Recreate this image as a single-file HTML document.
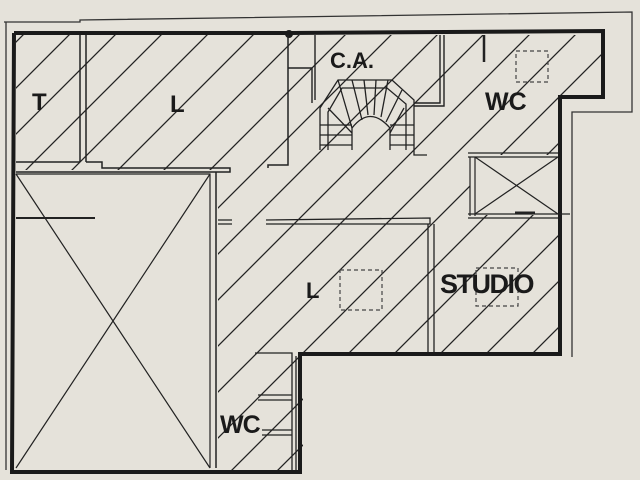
<!DOCTYPE html>
<html><head><meta charset="utf-8"><style>
html,body{margin:0;padding:0;background:#e5e2da;}
svg{display:block}
text{font-family:"Liberation Sans",sans-serif;font-weight:bold;fill:#1a1a1a}
</style></head><body>
<svg width="640" height="480" viewBox="0 0 640 480" xmlns="http://www.w3.org/2000/svg">
<defs>
<pattern id="h" patternUnits="userSpaceOnUse" width="46" height="46" patternTransform="translate(12,0)">
<path d="M-2,48 L48,-2 M-25,25 L25,-25 M21,71 L71,21" stroke="#222" stroke-width="1.3" fill="none"/>
</pattern>
<clipPath id="c"><path d="M16,35 L603,35 L603,95 L560,95 L560,352 L303,352 L303,470 L218,470 L218,170 L16,170 Z"/></clipPath>
</defs>
<rect width="640" height="480" fill="#e5e2da"/>
<rect x="0" y="0" width="640" height="480" fill="url(#h)" clip-path="url(#c)"/>
<rect x="470" y="155" width="88" height="60" fill="#e5e2da"/>
<path d="M4,22 L80,22 L80,20 L632,12 L632,112 L572,112 L572,357" stroke="#333" stroke-width="1.3" fill="none"/>
<path d="M6,22 L6,470" stroke="#333" stroke-width="1.3" fill="none"/>
<path d="M14,33 L290,33 L603,31 L603,97 L560,97 L560,354 L300,354 L300,472 L12,472 L14,33" stroke="#1a1a1a" stroke-width="4" fill="none"/>
<circle cx="289" cy="34" r="4" fill="#1a1a1a"/>
<path d="M80,35 L80,162 M86,35 L86,162" stroke="#222" stroke-width="1.5" fill="none"/>
<path d="M16,162 L80,162 M86,162 L102,162 L102,168 L230,168 L230,172 L16,172" stroke="#222" stroke-width="1.5" fill="none"/>
<path d="M288,35 L288,165 L268,165 L268,168" stroke="#222" stroke-width="1.5" fill="none"/>
<rect x="16" y="174" width="194" height="294" fill="#e5e2da"/>
<path d="M16,174 L210,174 L210,468 M16,174 L210,468 M210,174 L16,468" stroke="#222" stroke-width="1.2" fill="none"/>
<path d="M216,172 L216,468" stroke="#222" stroke-width="1.5" fill="none"/>
<path d="M16,218 L95,218" stroke="#222" stroke-width="2" fill="none"/>
<path d="M218,220 L232,220 M218,224 L232,224 M266,220 L430,218 L430,224 L266,224" stroke="#222" stroke-width="1.3" fill="none"/>
<path d="M428,224 L428,352 M434,224 L434,352" stroke="#222" stroke-width="1.3" fill="none"/>
<path d="M255,353 L292,353 L292,470 M296,356 L296,470 M258,395 L292,395 M258,400 L292,400 M262,430 L292,430 M262,435 L292,435" stroke="#222" stroke-width="1.3" fill="none"/>
<path d="M288,68 L312,68 L312,103 M315,35 L315,100 M440,35 L440,103 L415,103 M444,35 L444,106 L414,106" stroke="#222" stroke-width="1.4" fill="none"/>
<path d="M484,35 L484,62" stroke="#222" stroke-width="2.5"/>
<g stroke="#222" stroke-width="1.3" fill="none">
<path d="M320,150 L320,108 L338,80 L392,80 L414,100 L414,155 L427,155"/>
<path d="M328,150 L328,112 L342,88 L387,88 L406,104 L406,150"/>
<path d="M352,150 L352,128 Q370,105 390,128 L390,150"/>
<path d="M320,125 L352,125 M320,135 L352,135 M320,145 L352,145 M390,125 L414,125 M390,135 L414,135 M390,145 L414,145"/>
<path d="M338,80 L352,128 M352,80 L362,120 M364,80 L368,115 M376,80 L374,115 M388,80 L381,117 M402,90 L386,122 M328,108 L352,133 M404,108 L390,133"/>
</g>
<path d="M468,153 L558,153 M468,157 L558,157 M470,157 L470,216 M475,157 L475,216 M468,214 L570,214 M468,218 L558,218 M475,157 L558,214 M558,157 L475,214" stroke="#222" stroke-width="1.2" fill="none"/>
<path d="M515,213 L535,213" stroke="#222" stroke-width="3"/>
<g stroke="#444" stroke-width="1.2" fill="none" stroke-dasharray="4,3">
<rect x="516" y="51" width="32" height="31"/>
<rect x="340" y="270" width="42" height="40"/>
<rect x="476" y="268" width="42" height="38"/>
</g>
<text x="32" y="110" font-size="24">T</text>
<text x="170" y="112" font-size="24">L</text>
<text x="330" y="68" font-size="22">C.A.</text>
<text x="485" y="110" font-size="25">WC</text>
<text x="306" y="298" font-size="22">L</text>
<text x="440" y="293" font-size="27" letter-spacing="-1.5">STUDIO</text>
<text x="220" y="433" font-size="25" letter-spacing="-1">WC</text>
</svg>
</body></html>
